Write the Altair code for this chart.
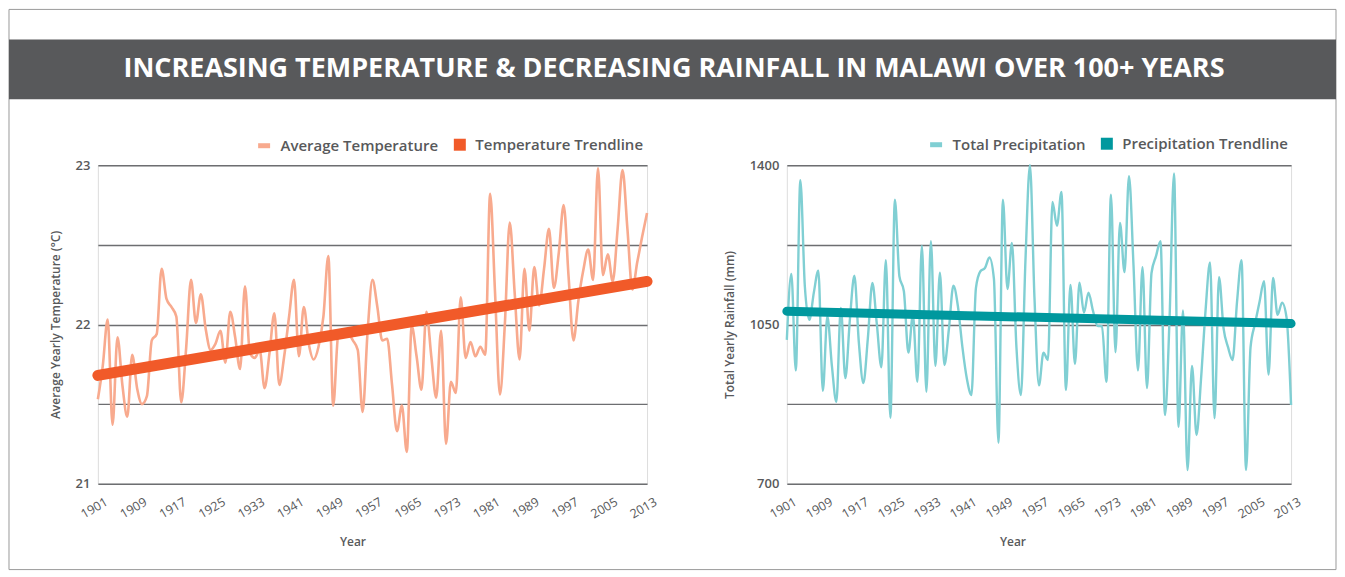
import altair as alt
import pandas as pd

# ---------------- data ----------------
years = list(range(1901, 2014))

temperature = [
    21.53, 21.74, 22.03, 21.37, 21.92, 21.62, 21.42, 21.81, 21.60, 21.50,  # 1901-1910
    21.55, 21.90, 21.94, 22.35, 22.16, 22.11, 22.05, 21.51, 21.85, 22.28,  # 1911-1920
    22.01, 22.19, 21.97, 21.84, 21.88, 21.96, 21.76, 22.08, 21.92, 21.72,  # 1921-1930
    22.24, 21.82, 21.79, 21.84, 21.60, 21.82, 22.07, 21.62, 21.80, 22.05,  # 1931-1940
    22.28, 21.80, 22.11, 21.88, 21.78, 21.86, 22.05, 22.43, 21.49, 21.93,  # 1941-1950
    21.97, 21.95, 21.90, 21.84, 21.45, 21.95, 22.28, 22.11, 21.90, 21.91,  # 1951-1960
    21.62, 21.33, 21.49, 21.20, 21.99, 21.80, 21.59, 22.08, 21.80, 21.54,  # 1961-1970
    21.96, 21.25, 21.64, 21.57, 22.17, 21.79, 21.89, 21.80, 21.86, 21.81,  # 1971-1980
    22.82, 22.20, 21.56, 22.00, 22.64, 22.20, 21.78, 22.35, 21.96, 22.36,  # 1981-1990
    22.12, 22.35, 22.60, 22.23, 22.45, 22.75, 22.30, 21.90, 22.15, 22.34,  # 1991-2000
    22.47, 22.28, 22.98, 22.31, 22.44, 22.27, 22.60, 22.97, 22.60, 22.22,  # 2001-2010
    22.39, 22.55, 22.70,                                                    # 2011-2013
]

precipitation = [
    1016, 1161, 949, 1367, 1134, 1060, 1120, 1168, 904, 1068,   # 1901-1910
    960, 880, 1086, 932, 1060, 1157, 1010, 921, 1020, 1141,     # 1911-1920
    1050, 956, 1191, 845, 1324, 1156, 1123, 988, 1071, 924,     # 1921-1930
    1223, 902, 1233, 959, 1164, 961, 1040, 1135, 1090, 1000,    # 1931-1940
    930, 895, 1130, 1167, 1174, 1197, 1150, 790, 1324, 1128,    # 1941-1950
    1229, 1000, 895, 1190, 1400, 1110, 916, 988, 972, 1319,     # 1951-1960
    1267, 1341, 906, 1137, 963, 1142, 1076, 1120, 1080, 1047,   # 1961-1970
    1046, 924, 1335, 989, 1273, 1165, 1376, 1180, 949, 1176,    # 1971-1980
    910, 1163, 1200, 1233, 851, 1060, 1382, 825, 1081, 730,     # 1981-1990
    959, 807, 930, 1080, 1186, 844, 1154, 1042, 1000, 972,      # 1991-2000
    1100, 1191, 730, 1000, 1052, 1100, 1145, 940, 1152, 1071,   # 2001-2010
    1098, 1065, 873,                                            # 2011-2013
]

trend_years = [1901, 2013]
temperature_trend = [21.68, 22.27]
precipitation_trend = [1079, 1052]

year_ticks = list(range(1901, 2014, 8))
temp_ticks = [21, 21.5, 22, 22.5, 23]
rain_ticks = [700, 875, 1050, 1225, 1400]

title_text = "INCREASING TEMPERATURE & DECREASING RAINFALL IN MALAWI OVER 100+ YEARS"

# ---------------- styling ----------------
FONT = "Open Sans"
TEXT = "#58595B"
GRID = "#6D6E71"
W1, W2, H = 550, 505, 319

temp_df = pd.DataFrame({"year": years, "value": temperature, "series": "Average Temperature"})
temp_trend_df = pd.DataFrame({"year": trend_years, "value": temperature_trend,
                              "series": "Temperature Trendline"})
rain_df = pd.DataFrame({"year": years, "value": precipitation, "series": "Total Precipitation"})
rain_trend_df = pd.DataFrame({"year": trend_years, "value": precipitation_trend,
                              "series": "Precipitation Trendline"})
dummy = pd.DataFrame({"k": [0]})


def x_enc(title_x):
    return alt.X(
        "year:O",
        scale=alt.Scale(type="point", domain=years, padding=0),
        axis=alt.Axis(
            values=year_ticks, labelAngle=-30, labelAlign="center",
            labelBaseline="middle", labelPadding=24, labelOffset=-4,
            labelFont=FONT, labelFontSize=12.5, labelColor=TEXT,
            labelOverlap=False, labelFlush=False, labelBound=False,
            ticks=False, domain=False, grid=False,
            title="Year", titleFont=FONT, titleFontSize=12, titleFontWeight=600,
            titleColor=TEXT, titleX=title_x, titleY=58, titleAlign="center",
            titleBaseline="middle",
        ),
    )


def y_enc(domain, ticks, expr, title, title_x):
    return alt.Y(
        "value:Q",
        scale=alt.Scale(domain=domain, nice=False, zero=False),
        axis=alt.Axis(
            values=ticks, labelExpr=expr, format="d" if domain[0] > 100 else "",
            labelFont=FONT, labelFontSize=13, labelFontWeight=600, labelColor=TEXT,
            labelPadding=8, ticks=False, domain=False,
            grid=True, gridColor=GRID, gridWidth=1.4,
            title=title, titleFont=FONT, titleFontSize=12, titleFontWeight=600,
            titleColor=TEXT, titleAngle=-90, titleX=title_x, titleY=H / 2,
            titleAlign="center", titleBaseline="middle",
        ),
    )


def legend(x, y, symbol):
    opts = dict(title=None, orient="none", legendX=x, legendY=y, padding=0,
                labelFont=FONT, labelFontSize=15, labelFontWeight=600, labelColor=TEXT,
                labelOffset=8, labelLimit=400, symbolSize=144)
    if symbol == "stroke":
        opts.update(symbolType="stroke", symbolStrokeWidth=5)
    else:
        opts.update(symbolType="square", symbolStrokeWidth=0)
    return alt.Legend(**opts)


# ---------------- left panel: temperature ----------------
temp_line = alt.Chart(temp_df).mark_line(interpolate="monotone", strokeWidth=2.6).encode(
    x=x_enc(255),
    y=y_enc([21, 23], temp_ticks, "datum.value % 1 == 0 ? datum.label : ''",
            "Average Yearly Temperature (°C)", -42),
    color=alt.Color("series:N", scale=alt.Scale(domain=["Average Temperature"], range=["#F8AA8E"]),
                    legend=legend(158, -28, "stroke")),
)
temp_trend = alt.Chart(temp_trend_df).mark_trail().encode(
    x="year:O",
    y="value:Q",
    size=alt.value(11),
    fill=alt.Fill("series:N", scale=alt.Scale(domain=["Temperature Trendline"], range=["#F15A29"]),
                  legend=legend(355, -28, "square")),
)

frame = alt.Chart(dummy).mark_rect(fillOpacity=0, stroke="#9A9A9A", strokeWidth=1).encode(
    x=alt.value(-89), x2=alt.value(1240), y=alt.value(-156), y2=alt.value(405))
band = alt.Chart(dummy).mark_rect(color="#58595B").encode(
    x=alt.value(-89), x2=alt.value(1240), y=alt.value(-126), y2=alt.value(-66))
headline = alt.Chart(dummy).mark_text(
    text=title_text, font=FONT, fontSize=27, fontWeight="bold", color="white",
    align="center", baseline="middle").encode(x=alt.value(577), y=alt.value(-96))

left = alt.layer(frame, band, headline, temp_line, temp_trend).properties(width=W1, height=H)

# ---------------- right panel: rainfall ----------------
rain_line = alt.Chart(rain_df).mark_line(interpolate="monotone", strokeWidth=2.4).encode(
    x=x_enc(226),
    y=y_enc([700, 1400], rain_ticks, "datum.value % 350 == 0 ? datum.label : ''",
            "Total Yearly Rainfall (mm)", -57),
    color=alt.Color("series:N", scale=alt.Scale(domain=["Total Precipitation"], range=["#80CFD3"]),
                    legend=legend(141, -29, "stroke")),
)
rain_trend = alt.Chart(rain_trend_df).mark_trail().encode(
    x="year:O",
    y="value:Q",
    size=alt.value(9),
    fill=alt.Fill("series:N", scale=alt.Scale(domain=["Precipitation Trendline"], range=["#00989E"]),
                  legend=legend(313, -29, "square")),
)
right = alt.layer(rain_line, rain_trend).properties(width=W2, height=H)

chart = (
    alt.hconcat(left, right, spacing=140, bounds="flush")
    .resolve_scale(color="independent", fill="independent", x="independent", y="independent")
    .resolve_legend(color="independent", fill="independent")
    .properties(padding=0)
    .configure_view(strokeWidth=0)
    .configure(font=FONT)
)

chart.save("out.html", embed_options={"renderer": "svg", "actions": False})
